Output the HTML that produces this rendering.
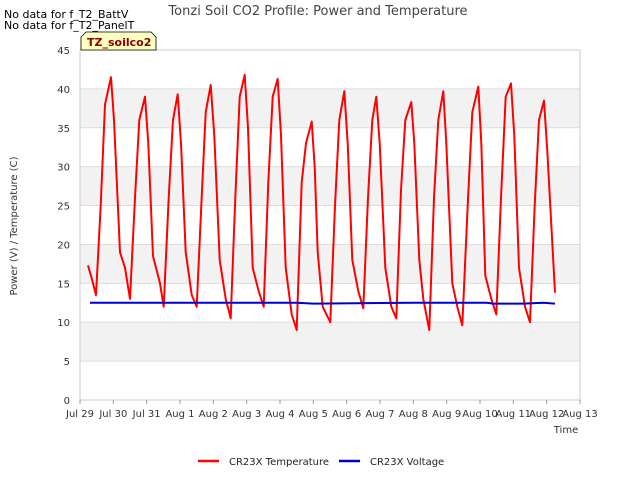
<!DOCTYPE html>
<html><head><meta charset="utf-8"><style>
body{margin:0;background:#fff;font-family:"Liberation Sans","DejaVu Sans",sans-serif;}
svg text{font-family:"DejaVu Sans","Liberation Sans",sans-serif;}
</style></head><body>
<svg id="chart" width="640" height="480" xmlns="http://www.w3.org/2000/svg">
<rect width="640" height="480" fill="#fff"/>
<g id="bands"></g>
<g id="grid"></g>
<g id="ticks"></g>
<text x="318" y="15" text-anchor="middle" font-size="13" fill="#444">Tonzi Soil CO2 Profile: Power and Temperature</text>
<text x="4" y="18" font-size="11" fill="#000">No data for f_T2_BattV</text>
<text x="4" y="29" font-size="11" fill="#000">No data for f_T2_PanelT</text>
<g>
<path d="M81,50 L81,37 L86,32 L151,32 L156,37 L156,50 Z" fill="#ffffc0" stroke="#000" stroke-width="0.8"/>
<text x="87" y="46" font-size="11" font-weight="bold" fill="#8b0000">TZ_soilco2</text>
</g>
<text transform="translate(17,226) rotate(-90)" text-anchor="middle" font-size="10" fill="#333">Power (V) / Temperature (C)</text>
<text x="566" y="433" text-anchor="middle" font-size="10" fill="#333">Time</text>
<g id="series"></g>
<g>
<line x1="198" y1="461" x2="219" y2="461" stroke="#f00" stroke-width="2.5"/>
<text x="229" y="465" font-size="10" fill="#222">CR23X Temperature</text>
<line x1="339" y1="461" x2="360" y2="461" stroke="#00c" stroke-width="2.5"/>
<text x="370" y="465" font-size="10" fill="#222">CR23X Voltage</text>
</g>
</svg>
<script>
const xTickLabels=["Jul 29","Jul 30","Jul 31","Aug 1","Aug 2","Aug 3","Aug 4","Aug 5","Aug 6","Aug 7","Aug 8","Aug 9","Aug 10","Aug 11","Aug 12","Aug 13"];
const yTicks=[0,5,10,15,20,25,30,35,40,45];
const tempDays=[0.24,0.36,0.48,0.62,0.75,0.93,1.02,1.20,1.35,1.50,1.65,1.78,1.95,2.05,2.19,2.40,2.51,2.66,2.79,2.93,3.03,3.17,3.35,3.50,3.64,3.77,3.92,4.03,4.19,4.37,4.52,4.66,4.79,4.94,5.04,5.18,5.36,5.51,5.65,5.78,5.93,6.03,6.17,6.35,6.50,6.65,6.78,6.95,7.04,7.13,7.28,7.51,7.65,7.78,7.93,8.03,8.17,8.35,8.50,8.64,8.77,8.89,8.99,9.16,9.34,9.49,9.63,9.76,9.94,10.03,10.18,10.30,10.48,10.62,10.75,10.90,10.99,11.17,11.32,11.47,11.63,11.77,11.95,12.04,12.16,12.34,12.49,12.63,12.77,12.93,13.03,13.17,13.35,13.50,13.64,13.77,13.92,14.02,14.25];
const tempValues=[17.3,15.5,13.5,25,38,41.5,36,19,17,13,26,36,39,33,18.5,15,12,26,36,39.3,33,19,13.5,12,25,37,40.5,34,18,13,10.5,26,39,41.8,35,17,14,12,28,39,41.3,34,17,11,9,28,33,35.8,30,19,12,10,25,36,39.7,33,18,14,11.8,26,36,39,33,17,12,10.5,27,36,38.3,33,18,13,9,26,36,39.7,33,15,12,9.6,25,37,40.3,33,16,13,11,26,39,40.7,34,17,12,10,25,36,38.5,32,13.8];
const voltDays=[0.3,3,6.5,7,10,12.2,12.4,13.3,13.9,14.25];
const voltValues=[12.5,12.5,12.5,12.4,12.5,12.5,12.4,12.4,12.5,12.4];
const X0=80,X1=580,Y0=400,Y1=50;
const xs=d=>X0+d*(X1-X0)/15;
const ys=v=>Y0-v*(Y0-Y1)/45;
const NS="http://www.w3.org/2000/svg";
const bands=document.getElementById('bands'),grid=document.getElementById('grid'),ticks=document.getElementById('ticks');
for(let i=0;i<yTicks.length-1;i++){
  const r=document.createElementNS(NS,'rect');
  r.setAttribute('x',X0);r.setAttribute('y',ys(yTicks[i+1]));r.setAttribute('width',X1-X0);r.setAttribute('height',ys(yTicks[i])-ys(yTicks[i+1]));r.setAttribute('fill',i%2===0?'#fff':'#f2f2f2');
  
  
  bands.appendChild(r);
}
yTicks.forEach(v=>{
  const l=document.createElementNS(NS,'line');
  l.setAttribute('x1',X0);l.setAttribute('x2',X1);l.setAttribute('y1',ys(v));l.setAttribute('y2',ys(v));l.setAttribute('stroke','#ddd');
  
  
  grid.appendChild(l);
  const t=document.createElementNS(NS,'text');
  t.setAttribute('x',X0-10);t.setAttribute('y',ys(v)+4);t.setAttribute('text-anchor','end');t.setAttribute('font-size','10');t.setAttribute('fill','#333');
  t.textContent=v;
  
  
  ticks.appendChild(t);
});
const bx=document.createElementNS(NS,'rect');
bx.setAttribute('x',X0);bx.setAttribute('y',Y1);bx.setAttribute('width',X1-X0);bx.setAttribute('height',Y0-Y1);bx.setAttribute('fill','none');bx.setAttribute('stroke','#ccc');


grid.appendChild(bx);
xTickLabels.forEach((s,i)=>{
  const l=document.createElementNS(NS,'line');
  l.setAttribute('x1',xs(i));l.setAttribute('x2',xs(i));l.setAttribute('y1',Y0);l.setAttribute('y2',Y0+4);l.setAttribute('stroke','#999');
  
  
  ticks.appendChild(l);
  const t=document.createElementNS(NS,'text');
  t.setAttribute('x',xs(i));t.setAttribute('y',Y0+17);t.setAttribute('text-anchor','middle');t.setAttribute('font-size','10');t.setAttribute('fill','#333');
  t.textContent=s;
  
  
  ticks.appendChild(t);
});
const series=document.getElementById('series');
function line(d,v,color,name){
  const p=document.createElementNS(NS,'polyline');
  p.setAttribute('points',d.map((x,i)=>xs(x).toFixed(1)+','+ys(v[i]).toFixed(1)).join(' '));
  p.setAttribute('fill','none');p.setAttribute('stroke',color);p.setAttribute('stroke-width','2');p.setAttribute('stroke-linejoin','round');
  
  
  series.appendChild(p);
}
line(tempDays,tempValues,'#f00','temperature-line');
line(voltDays,voltValues,'#0000cc','voltage-line');
</script>
</body></html>
